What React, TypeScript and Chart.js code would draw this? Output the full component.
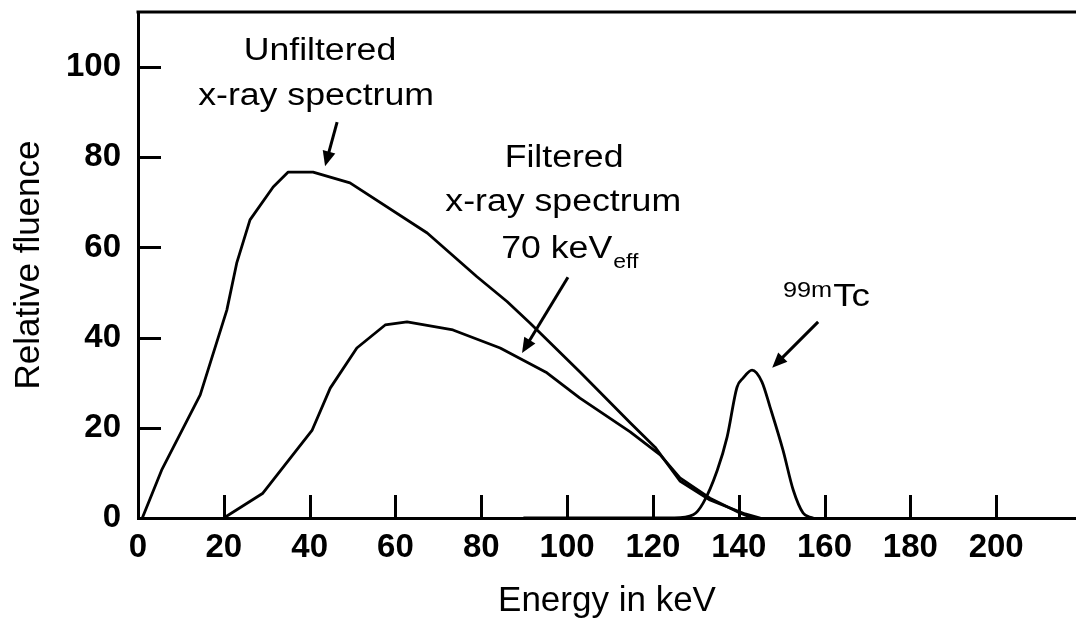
import React, { useEffect, useRef } from 'react';
import { Chart, registerables } from 'chart.js';

Chart.register(...registerables);

// ---------- data ----------
const unfilteredEnergy = [1, 5.5, 14.5, 20.7, 23, 26.1, 31.5, 35, 40.8, 49.4, 67.4, 79, 86, 91.4, 103, 114.7, 120.5, 126.3, 133.3, 141.5, 145];
const unfilteredFluence = [0, 10.6, 27.3, 46.1, 56.5, 66.1, 73.4, 76.7, 76.7, 74.3, 63.2, 53.5, 48, 43.2, 32.4, 21.1, 15.7, 8.2, 4.0, 0.9, 0];

const filteredEnergy = [20, 29.1, 40.6, 44.8, 51, 57.6, 62.7, 73.4, 84.4, 95.3, 103, 114.7, 121.7, 126.3, 133.3, 140.3, 142.7];
const filteredFluence = [0, 5.5, 19.5, 28.8, 37.7, 42.8, 43.5, 41.7, 37.7, 32.2, 26.6, 19.1, 14, 8.9, 4.4, 1.1, 0.2];

const tcEnergy = [90, 125, 129.4, 131.7, 135, 137.3, 139.6, 141, 143.1, 145.4, 147.3, 150.3, 152.7, 155, 157.3];
const tcFluence = [0, 0, 0.7, 3.3, 10.6, 18, 29, 31, 32.8, 30.2, 24.6, 15.1, 6.2, 1.1, 0];

const xTickValues = [0, 20, 40, 60, 80, 100, 120, 140, 160, 180, 200];
const yTickValues = [0, 20, 40, 60, 80, 100];

const xLabel = 'Energy in keV';
const yLabel = 'Relative fluence';

// annotation anchors in data units
const unfilteredLabel = ['Unfiltered', 'x-ray spectrum'];
const unfilteredLabelAt = [[42.4, 101.6], [41.5, 91.6]];
const unfilteredArrow = [[46.4, 87.8], [43.6, 78.0]];

const filteredLabel = ['Filtered', 'x-ray spectrum'];
const filteredLabelAt = [[99.3, 77.8], [99.1, 68.1]];
const filteredEnergyLabel = ['70 keV', 'eff'];
const filteredEnergyLabelAt = [100.5, 57.7];
const filteredArrow = [[100.2, 53.4], [89.5, 36.6]];

const tcLabel = ['99m', 'Tc'];
const tcLabelAt = [150.3, 47.0];
const tcArrow = [[158.5, 43.5], [147.8, 33.3]];

const FONT = '"Liberation Sans", Arial, Helvetica, sans-serif';

const zip = (xs: number[], ys: number[]) => xs.map((x, i) => ({ x, y: ys[i] }));

export default function App() {
  const canvasRef = useRef<HTMLCanvasElement>(null);

  useEffect(() => {
    const canvas = canvasRef.current;
    if (!canvas) return;

    const SX = 1.15;

    const annotations = {
      id: 'annotations',
      afterDraw(chart: any) {
        const { ctx, chartArea } = chart;
        const xs = chart.scales.x;
        const ys = chart.scales.y;
        const px = (v: number) => xs.getPixelForValue(v);
        const py = (v: number) => ys.getPixelForValue(v);
        ctx.save();
        ctx.strokeStyle = '#000';
        ctx.fillStyle = '#000';
        ctx.lineCap = 'butt';

        // top frame line
        ctx.lineWidth = 3;
        ctx.beginPath();
        ctx.moveTo(chartArea.left - 1.5, chartArea.top);
        ctx.lineTo(chartArea.right, chartArea.top);
        ctx.stroke();

        // inward tick marks
        const TL = 23;
        ctx.lineWidth = 3;
        xTickValues.forEach((v) => {
          if (v === 0) return;
          const x = Math.round(px(v)) + 0.5;
          ctx.beginPath();
          ctx.moveTo(x, chartArea.bottom);
          ctx.lineTo(x, chartArea.bottom - TL);
          ctx.stroke();
        });
        yTickValues.forEach((v) => {
          if (v === 0) return;
          const y = Math.round(py(v)) + 0.5;
          ctx.beginPath();
          ctx.moveTo(chartArea.left, y);
          ctx.lineTo(chartArea.left + TL, y);
          ctx.stroke();
        });

        const text = (t: string, x: number, y: number, size: number, align: string) => {
          ctx.save();
          ctx.font = `${size}px ${FONT}`;
          ctx.textAlign = align;
          ctx.textBaseline = 'alphabetic';
          ctx.translate(x, y);
          ctx.scale(SX, 1);
          ctx.fillText(t, 0, 0);
          ctx.restore();
        };
        const width = (t: string, size: number) => {
          ctx.save();
          ctx.font = `${size}px ${FONT}`;
          const w = ctx.measureText(t).width * SX;
          ctx.restore();
          return w;
        };
        const arrow = (a: number[], b: number[]) => {
          const x1 = px(a[0]), y1 = py(a[1]), x2 = px(b[0]), y2 = py(b[1]);
          const ang = Math.atan2(y2 - y1, x2 - x1);
          const len = 15, hw = 6.5;
          const bx = x2 - len * Math.cos(ang), by = y2 - len * Math.sin(ang);
          ctx.lineWidth = 3;
          ctx.beginPath();
          ctx.moveTo(x1, y1);
          ctx.lineTo(bx + 2 * Math.cos(ang), by + 2 * Math.sin(ang));
          ctx.stroke();
          ctx.beginPath();
          ctx.moveTo(x2, y2);
          ctx.lineTo(bx + hw * Math.sin(ang), by - hw * Math.cos(ang));
          ctx.lineTo(bx - hw * Math.sin(ang), by + hw * Math.cos(ang));
          ctx.closePath();
          ctx.fill();
        };

        const MAIN = 31;
        unfilteredLabel.forEach((t, i) => text(t, px(unfilteredLabelAt[i][0]), py(unfilteredLabelAt[i][1]), MAIN, 'center'));
        arrow(unfilteredArrow[0], unfilteredArrow[1]);

        filteredLabel.forEach((t, i) => text(t, px(filteredLabelAt[i][0]), py(filteredLabelAt[i][1]), MAIN, 'center'));
        {
          const SUB = 20;
          const w1 = width(filteredEnergyLabel[0], MAIN);
          const w2 = width(filteredEnergyLabel[1], SUB);
          const cx = px(filteredEnergyLabelAt[0]);
          const by = py(filteredEnergyLabelAt[1]);
          const start = cx - (w1 + w2) / 2;
          text(filteredEnergyLabel[0], start, by, MAIN, 'left');
          text(filteredEnergyLabel[1], start + w1 + 1, by + 10, SUB, 'left');
        }
        arrow(filteredArrow[0], filteredArrow[1]);

        {
          const SUP = 22;
          const lx = px(tcLabelAt[0]);
          const by = py(tcLabelAt[1]);
          const w1 = width(tcLabel[0], SUP);
          text(tcLabel[0], lx, by - 9, SUP, 'left');
          text(tcLabel[1], lx + w1 + 1, by, 32, 'left');
        }
        arrow(tcArrow[0], tcArrow[1]);

        ctx.restore();
      },
    };

    const lineStyle = {
      borderColor: '#000',
      backgroundColor: '#000',
      borderWidth: 2.8,
      pointRadius: 0,
      fill: false,
      tension: 0,
      borderJoinStyle: 'round' as const,
      borderCapStyle: 'round' as const,
    };

    const chart = new Chart(canvas, {
      type: 'line',
      data: {
        datasets: [
          { label: 'Unfiltered x-ray spectrum', data: zip(unfilteredEnergy, unfilteredFluence), ...lineStyle },
          { label: 'Filtered x-ray spectrum 70 keVeff', data: zip(filteredEnergy, filteredFluence), ...lineStyle },
          { label: '99mTc', data: zip(tcEnergy, tcFluence), ...lineStyle, cubicInterpolationMode: 'monotone' as const },
        ],
      },
      options: {
        animation: false,
        responsive: false,
        layout: { padding: { top: 12, right: 0, left: 0, bottom: 0 } },
        plugins: {
          legend: { display: false },
          tooltip: { enabled: false },
        },
        scales: {
          x: {
            type: 'linear',
            min: 0,
            max: 218.6,
            afterBuildTicks: (scale: any) => {
              scale.ticks = xTickValues.map((value) => ({ value }));
            },
            afterFit: (scale: any) => {
              scale.height = 108;
              scale.paddingLeft = 0;
              scale.paddingRight = 0;
            },
            grid: { display: true, drawOnChartArea: false, drawTicks: false },
            border: { display: true, color: '#000', width: 3 },
            ticks: {
              color: '#000',
              padding: 10,
              maxRotation: 0,
              autoSkip: false,
              font: { family: FONT, size: 33, weight: 'bold' },
            },
            title: {
              display: true,
              text: xLabel,
              color: '#000',
              font: { family: FONT, size: 35 },
              padding: { top: 0, bottom: 4 },
            },
          },
          y: {
            type: 'linear',
            min: 0,
            max: 112.2,
            afterBuildTicks: (scale: any) => {
              scale.ticks = yTickValues.map((value) => ({ value }));
            },
            afterFit: (scale: any) => {
              scale.width = 138;
              scale.paddingTop = 0;
              scale.paddingBottom = 0;
            },
            grid: { display: true, drawOnChartArea: false, drawTicks: false },
            border: { display: true, color: '#000', width: 3 },
            ticks: {
              color: '#000',
              padding: 17,
              autoSkip: false,
              font: { family: FONT, size: 33, weight: 'bold' },
            },
            title: {
              display: true,
              text: yLabel,
              color: '#000',
              font: { family: FONT, size: 35 },
              padding: { top: 8, bottom: 0 },
            },
          },
        },
      },
      plugins: [annotations],
    });

    return () => chart.destroy();
  }, []);

  return (
    <div style={{ position: 'absolute', left: 0, top: 0, width: 1076, height: 626, background: '#fff' }}>
      <canvas ref={canvasRef} width={1076} height={626} style={{ display: 'block' }} />
    </div>
  );
}
